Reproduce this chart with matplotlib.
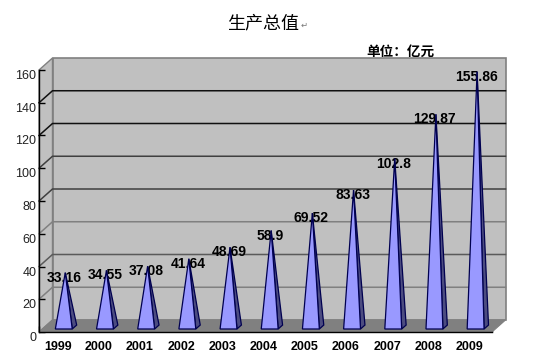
import matplotlib
matplotlib.use('Agg')
import matplotlib.pyplot as plt
from matplotlib.patches import Polygon

years = ['1999', '2000', '2001', '2002', '2003', '2004', '2005', '2006', '2007', '2008', '2009']
values = [33.16, 34.55, 37.08, 41.64, 48.69, 58.9, 69.52, 83.63, 102.8, 129.87, 155.86]
value_labels = ['33.16', '34.55', '37.08', '41.64', '48.69', '58.9', '69.52', '83.63', '102.8', '129.87', '155.86']
y_ticks = [0, 20, 40, 60, 80, 100, 120, 140, 160]
grid_colors = ['#808080', '#808080', '#5a5a5a', '#808080', '#404040', '#404040', '#101010', '#101010', '#808080']

W, H = 533, 359
# front plane of the chart in pixels
left, right, bottom, top = 39, 492, 332, 70
# depth of the 3d box in data units
DX = 13.5 / ((right - left) / len(years))
DY = 12 / ((bottom - top) / 160)

WALL = '#c0c0c0'
FLOOR = '#808080'
FACE = '#9999ff'
SIDE = '#4c4c80'
EDGE = '#000050'


def pt(x, y, depth=0.0):
    return (x + DX * depth, y + DY * depth)


def draw_spike(ax, i, v):
    half = 0.205
    d1, d2, d_top = 0.25, 0.58, 0.42
    apex = pt(i, v, d_top)
    shift = 0.02
    fl = pt(i - half + shift, 0, d1)
    fr = pt(i + half + shift, 0, d1)
    br = pt(i + half + shift, 0, d2)
    ax.add_patch(Polygon([fr, br, apex], fc=SIDE, ec=EDGE, lw=0.9, zorder=6))
    ax.add_patch(Polygon([fl, fr, apex], fc=FACE, ec=EDGE, lw=0.9, zorder=6))


fig = plt.figure(figsize=(W / 100, H / 100), dpi=100, facecolor='white')
ax = fig.add_axes([left / W, 1 - bottom / H, (right - left) / W, (bottom - top) / H])
ax.set_xlim(-0.5, len(years) - 0.5)
ax.set_ylim(0, 160)
ax.patch.set_visible(False)
for s in ['top', 'right']:
    ax.spines[s].set_visible(False)
for s in ['left', 'bottom']:
    ax.spines[s].set_linewidth(1.0)
    ax.spines[s].set_color('black')
    ax.spines[s].set_zorder(8)

x0, x1 = ax.get_xlim()
# back wall, side wall, floor
ax.add_patch(Polygon([pt(x0, 0, 1), pt(x1, 0, 1), pt(x1, 160, 1), pt(x0, 160, 1)],
                     fc=WALL, ec='#808080', lw=1.2, clip_on=False, zorder=1))
ax.add_patch(Polygon([pt(x0, 0), pt(x0, 0, 1), pt(x0, 160, 1), pt(x0, 160)],
                     fc=WALL, ec='#808080', lw=1.0, clip_on=False, zorder=1))
ax.add_patch(Polygon([pt(x0, 0), pt(x1, 0), pt(x1, 0, 1), pt(x0, 0, 1)],
                     fc=FLOOR, ec='#808080', lw=0.8, clip_on=False, zorder=2))

for t, c in zip(y_ticks, grid_colors):
    if t == 0 or t == 160:
        continue
    xs, ys = zip(pt(x0, t), pt(x0, t, 1), pt(x1, t, 1))
    ax.plot(xs, ys, color=c, lw=1.1, clip_on=False, zorder=3)

ax.set_yticks(y_ticks)
ax.set_yticklabels([str(t) for t in y_ticks], fontsize=9, family='Liberation Sans', color='#222222')
ax.set_xticks([i - 0.5 for i in range(len(years) + 1)])
ax.set_xticklabels([])
ax.tick_params(axis='y', direction='in', length=4, width=1, pad=2, color='black')
ax.tick_params(axis='x', direction='in', length=4, width=1, color='black')
for lab in ax.get_yticklabels():
    lab.set_verticalalignment('top')

for i, (year, v, lab) in enumerate(zip(years, values, value_labels)):
    draw_spike(ax, i, v)
    ax.annotate(lab, pt(i, v, 0.42), xytext=(-1, -5), textcoords='offset pixels',
                ha='center', va='center', fontsize=10, fontweight='bold', color='black',
                family='Liberation Sans', zorder=5, annotation_clip=False)
    ax.annotate(year, (i, 0), xytext=(-2, -15), textcoords='offset pixels',
                ha='center', va='center', fontsize=9, fontweight='bold', color='black',
                family='Liberation Sans', annotation_clip=False)

cjk = ['Noto Sans CJK SC', 'DejaVu Sans']
fig.text(263 / W, 1 - 23 / H, '生产总值', ha='center', va='center', fontsize=13, fontweight='medium', family=cjk, color='black')
fig.text(304 / W, 1 - 25 / H, '↵', ha='center', va='center', fontsize=6, family=cjk, color='#777777')
fig.text(366 / W, 1 - 52 / H, '单位：亿元', ha='left', va='center', fontsize=9.8, fontweight='bold', family=cjk, color='black')

fig.savefig('out.png', dpi=100, facecolor='white')
